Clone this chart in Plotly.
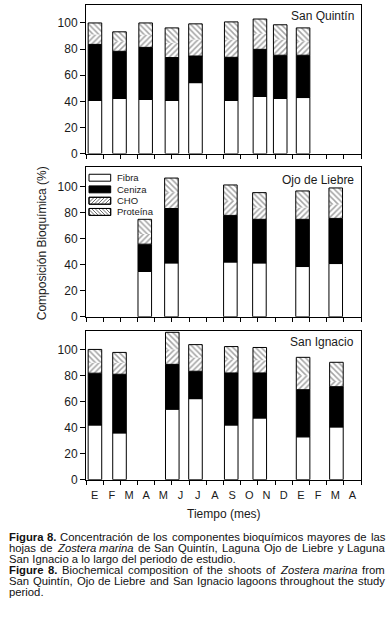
import plotly.graph_objects as go

W, H = 391, 633
FONT = "Liberation Sans, Arial, sans-serif"
TXT = "#1a1a1a"

# ---------------- data ----------------
months = ["E", "F", "M", "A", "M", "J", "J", "A", "S", "O", "N", "D", "E", "F", "M", "A"]
series_names = ["Fibra", "Ceniza", "CHO", "Proteína"]
panel_titles = ["San Quintín", "Ojo de Liebre", "San Ignacio"]

# sampling time in month units (0 = start of first "E")
sq_t = [0.52, 1.95, 3.47, 5.0, 6.37, 8.45, 10.12, 11.3, 12.63]
sq_fibra = [40.7, 42.2, 41.4, 40.7, 54.3, 40.7, 43.7, 42.2, 42.9]
sq_ceniza = [42.9, 36.1, 39.9, 32.8, 20.4, 33.0, 36.1, 33.1, 32.4]
sq_cho = [7.6, 7.7, 9.7, 11.3, 12.6, 13.6, 12.2, 12.0, 10.7]
sq_prot = [8.8, 7.2, 9.0, 11.4, 12.0, 13.5, 11.0, 11.3, 10.2]

ol_t = [3.42, 4.97, 8.40, 10.09, 12.60, 14.53]
ol_fibra = [34.8, 41.4, 42.1, 41.4, 38.6, 40.9]
ol_ceniza = [21.0, 41.8, 35.8, 33.5, 36.3, 34.7]
ol_cho = [7.9, 12.2, 11.2, 9.1, 9.1, 10.9]
ol_prot = [11.2, 11.2, 12.2, 11.4, 12.7, 12.5]

si_t = [0.52, 1.95, 5.02, 6.37, 8.45, 10.11, 12.63, 14.57]
si_fibra = [42.1, 36.0, 54.3, 62.4, 42.1, 47.5, 33.0, 40.6]
si_ceniza = [39.9, 45.2, 34.5, 21.1, 40.1, 34.7, 36.3, 31.0]
si_cho = [8.0, 8.8, 11.5, 10.5, 10.5, 9.8, 10.7, 4.4]
si_prot = [10.3, 8.0, 13.2, 10.0, 9.8, 9.8, 14.2, 14.4]

y_ticks = [0, 20, 40, 60, 80, 100]
y_max = [114, 115, 114.8]

panels = [
    (sq_t, [sq_fibra, sq_ceniza, sq_cho, sq_prot]),
    (ol_t, [ol_fibra, ol_ceniza, ol_cho, ol_prot]),
    (si_t, [si_fibra, si_ceniza, si_cho, si_prot]),
]

# ---------------- helpers ----------------
def px(x):
    return x / W


def py(y):
    return 1 - y / H


HATCH = "#4a4a4a"
BAR_W = 0.79
styles = [
    dict(color="white", line=dict(color="black", width=1)),
    dict(color="black", line=dict(color="black", width=1)),
    dict(color="white", line=dict(width=0),
         pattern=dict(shape="/", size=4, solidity=0.38, fgcolor=HATCH, bgcolor="white")),
    dict(color="white", line=dict(width=0),
         pattern=dict(shape="\\", size=4, solidity=0.38, fgcolor=HATCH, bgcolor="white")),
]

# plot area geometry in pixels
X0, X1 = 86, 361
rows_px = [(4.7, 155.3), (169.0, 320.3), (334.3, 485.0)]

fig = go.Figure()
for i, (t, comps) in enumerate(panels):
    xa = "x" if i == 0 else f"x{i+1}"
    ya = "y" if i == 0 else f"y{i+1}"
    base = [0.0] * len(t)
    for name, vals, st in zip(series_names, comps, styles):
        fig.add_trace(go.Bar(x=t, y=vals, base=list(base), width=BAR_W, name=name, marker=st,
                             xaxis=xa, yaxis=ya, showlegend=False, hoverinfo="skip"))
        base = [b + v for b, v in zip(base, vals)]
    # outline around the hatched (CHO + Proteína) part, no line between them
    hb = [f + c for f, c in zip(comps[0], comps[1])]
    hv = [c + p for c, p in zip(comps[2], comps[3])]
    fig.add_trace(go.Bar(x=t, y=hv, base=hb, width=BAR_W, name="CHO + Proteína",
                         marker=dict(color="rgba(0,0,0,0)", line=dict(color="black", width=1)),
                         xaxis=xa, yaxis=ya, showlegend=False, hoverinfo="skip"))

layout = dict(
    width=W, height=H, margin=dict(l=0, r=0, t=0, b=0, pad=0),
    plot_bgcolor="white", paper_bgcolor="white", barmode="overlay",
    font=dict(family=FONT, color=TXT), showlegend=False,
)

for i in range(3):
    top, bot = rows_px[i]
    xk = "xaxis" if i == 0 else f"xaxis{i+1}"
    yk = "yaxis" if i == 0 else f"yaxis{i+1}"
    ya = "y" if i == 0 else f"y{i+1}"
    xa = "x" if i == 0 else f"x{i+1}"
    layout[xk] = dict(
        domain=[px(X0), px(X1)], range=[0, 16], anchor=ya,
        showline=True, mirror=True, linecolor="black", linewidth=1,
        showgrid=False, zeroline=False,
        tickmode="array", tickvals=[k + 0.5 for k in range(16)],
        ticktext=months if i == 2 else [""] * 16,
        ticks="outside", ticklen=5, tickcolor="rgba(0,0,0,0)",
        tickfont=dict(size=11, color=TXT),
        minor=dict(tickmode="array", tickvals=list(range(17)), ticks="outside",
                   ticklen=4, tickcolor="black", tickwidth=1, showgrid=False),
        fixedrange=True,
    )
    layout[yk] = dict(
        domain=[py(bot), py(top)], range=[0, y_max[i]], anchor=xa,
        showline=True, mirror=True, linecolor="black", linewidth=1,
        showgrid=False, zeroline=False,
        tickmode="array", tickvals=y_ticks,
        ticks="outside", ticklen=5, tickcolor="black", tickwidth=1,
        tickfont=dict(size=12, color=TXT), fixedrange=True,
    )

annotations = []
shapes = []

# panel titles
title_y = [15.7, 182.3, 345.7]
for name, yy in zip(panel_titles, title_y):
    annotations.append(dict(text=name, x=px(356), y=py(yy), xref="paper", yref="paper",
                            xanchor="right", yanchor="middle", showarrow=False,
                            font=dict(size=12, color=TXT, family=FONT)))

# axis titles
annotations.append(dict(text="Composición Bioquímica (%)", x=px(42), y=py(246), xref="paper", yref="paper",
                        textangle=-90, showarrow=False, xanchor="center", yanchor="middle",
                        font=dict(size=12, color=TXT, family=FONT)))
annotations.append(dict(text="Tiempo (mes)", x=px(224), y=py(520), xref="paper", yref="paper",
                        showarrow=False, xanchor="center", yanchor="middle",
                        font=dict(size=12, color=TXT, family=FONT)))

# manual legend (inside Ojo de Liebre panel)
leg_y = [179.7, 191.5, 203.0, 214.3]
LX0, LX1, LH = 89, 110.7, 7.0


def hatch_path(x0, y0, x1, y1, kind, step=3.5):
    segs = []
    if kind == "/":
        k = x0 + y0 + step / 2
        while k < x1 + y1:
            xa = max(x0, k - y1)
            xb = min(x1, k - y0)
            if xb > xa:
                segs.append(f"M{px(xa):.5f},{py(k - xa):.5f}L{px(xb):.5f},{py(k - xb):.5f}")
            k += step
    else:
        k = y0 - x1 + step / 2
        while k < y1 - x0:
            xa = max(x0, y0 - k)
            xb = min(x1, y1 - k)
            if xb > xa:
                segs.append(f"M{px(xa):.5f},{py(xa + k):.5f}L{px(xb):.5f},{py(xb + k):.5f}")
            k += step
    return " ".join(segs)


for j, (name, yc) in enumerate(zip(series_names, leg_y)):
    y0, y1 = yc - LH / 2, yc + LH / 2
    fill = "black" if j == 1 else "white"
    shapes.append(dict(type="rect", xref="paper", yref="paper", x0=px(LX0), x1=px(LX1),
                       y0=py(y1), y1=py(y0), fillcolor=fill, line=dict(color="black", width=1)))
    if j >= 2:
        shapes.append(dict(type="path", xref="paper", yref="paper",
                           path=hatch_path(LX0, y0, LX1, y1, "/" if j == 2 else "\\"),
                           line=dict(color=HATCH, width=0.8)))
        shapes.append(dict(type="rect", xref="paper", yref="paper", x0=px(LX0), x1=px(LX1),
                           y0=py(y1), y1=py(y0), fillcolor="rgba(0,0,0,0)", line=dict(color="black", width=1)))
    annotations.append(dict(text=name, x=px(115), y=py(yc), xref="paper", yref="paper",
                            xanchor="left", yanchor="middle", showarrow=False,
                            font=dict(size=9.5, color=TXT, family=FONT)))

# ---------------- caption (justified) ----------------
REG = {' ': 278, '!': 278, '(': 333, ')': 333, ',': 278, '.': 278, '%': 889,
       'A': 667, 'B': 667, 'C': 722, 'D': 722, 'E': 667, 'F': 611, 'G': 778, 'H': 722, 'I': 278,
       'J': 500, 'K': 667, 'L': 556, 'M': 833, 'N': 722, 'O': 778, 'P': 667, 'Q': 778, 'R': 722,
       'S': 667, 'T': 611, 'U': 722, 'V': 667, 'W': 944, 'X': 667, 'Y': 667, 'Z': 611,
       'a': 556, 'b': 556, 'c': 500, 'd': 556, 'e': 556, 'f': 278, 'g': 556, 'h': 556, 'i': 222,
       'j': 222, 'k': 500, 'l': 222, 'm': 833, 'n': 556, 'o': 556, 'p': 556, 'q': 556, 'r': 333,
       's': 500, 't': 278, 'u': 556, 'v': 500, 'w': 722, 'x': 500, 'y': 500, 'z': 500,
       'á': 556, 'é': 556, 'í': 278, 'ó': 556, 'ú': 556, 'ñ': 556}
BOLD = {'F': 611, 'i': 278, 'g': 611, 'u': 611, 'r': 389, 'a': 556, 'e': 556, '.': 278, ' ': 278}
for d in "0123456789":
    REG[d] = 556
    BOLD[d] = 556

CAP_FS = 11.3
CAP_X0, CAP_X1 = 7, 383
caption_lines = [
    ("<b>Figura 8.</b> Concentración de los componentes bioquímicos mayores de las", True),
    ("hojas de <i>Zostera marina</i> de San Quintín, Laguna Ojo de Liebre y Laguna", True),
    ("San Ignacio a lo largo del periodo de estudio.", False),
    ("<b>Figure 8.</b> Biochemical composition of the shoots of <i>Zostera marina</i> from", True),
    ("San Quintín, Ojo de Liebre and San Ignacio lagoons throughout the study", True),
    ("period.", False),
]
caption_y = [542.7, 554.0, 565.2, 576.4, 587.5, 598.6]


def word_w(w, bold):
    tab = BOLD if bold else REG
    return sum(tab.get(c, REG.get(c, 556)) for c in w) / 1000 * CAP_FS


for (line, justify), yy in zip(caption_lines, caption_y):
    if not justify:
        annotations.append(dict(text=line, x=px(CAP_X0), y=py(yy), xref="paper", yref="paper",
                                xanchor="left", yanchor="middle", showarrow=False,
                                font=dict(size=CAP_FS, color="#111", family=FONT)))
        continue
    words = []
    bold = ital = False
    for raw in line.split(" "):
        w = raw
        if w.startswith("<b>"):
            bold = True
            w = w[3:]
        if w.startswith("<i>"):
            ital = True
            w = w[3:]
        endb = w.endswith("</b>")
        endi = w.endswith("</i>")
        w = w.replace("</b>", "").replace("</i>", "")
        words.append((w, bold, ital))
        if endb:
            bold = False
        if endi:
            ital = False
    widths = [word_w(w, b) for w, b, _ in words]
    gap = (CAP_X1 - CAP_X0 - sum(widths)) / (len(words) - 1)
    xcur = CAP_X0
    for (w, b, it), ww in zip(words, widths):
        t = w
        if b:
            t = f"<b>{t}</b>"
        if it:
            t = f"<i>{t}</i>"
        annotations.append(dict(text=t, x=px(xcur), y=py(yy), xref="paper", yref="paper",
                                xanchor="left", yanchor="middle", showarrow=False,
                                font=dict(size=CAP_FS, color="#111", family=FONT)))
        xcur += ww + gap

layout["annotations"] = annotations
layout["shapes"] = shapes
fig.update_layout(**layout)

fig.write_html("out.html", config={"displayModeBar": False},
               post_script="document.body.style.margin='0';document.body.style.overflow='hidden';")
